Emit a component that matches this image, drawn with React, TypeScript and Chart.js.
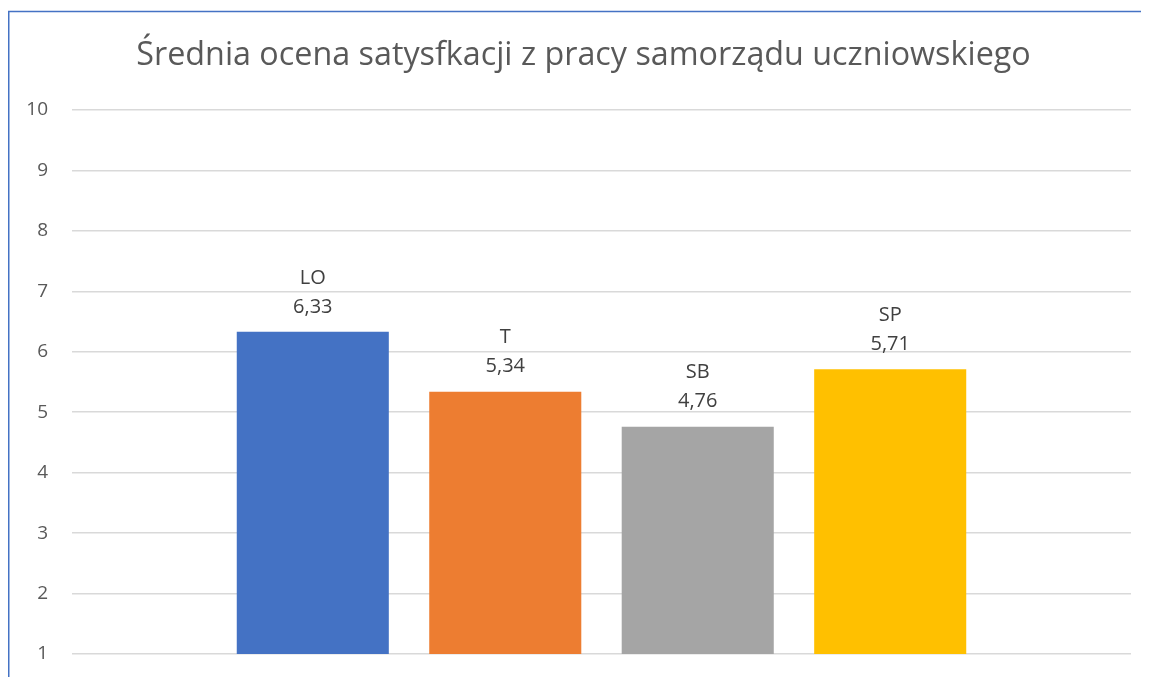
import React, { useEffect, useRef } from 'react';
import { Chart, registerables } from 'chart.js';

Chart.register(...registerables);

const titleText = 'Średnia ocena satysfkacji z pracy samorządu uczniowskiego';
const categories = [''];
const seriesNames = ['LO', 'T', 'SB', 'SP'];
const seriesValues = [6.33, 5.34, 4.76, 5.71];
const seriesColors = ['#4472C4', '#ED7D31', '#A5A5A5', '#FFC000'];
const yMin = 1;
const yMax = 10;
const yStep = 1;

const FONT = "'Open Sans', 'Noto Sans', sans-serif";

const frameLines = {
  id: 'frameLines',
  beforeDraw(chart: any) {
    const { ctx, width, height } = chart;
    ctx.save();
    ctx.strokeStyle = '#4472C4';
    ctx.lineWidth = 1.5;
    ctx.beginPath();
    ctx.moveTo(0.75, 3.5);
    ctx.lineTo(0.75, height);
    ctx.moveTo(0, 3.5);
    ctx.lineTo(width, 3.5);
    ctx.stroke();
    ctx.restore();
  },
};

const chartTitle = {
  id: 'chartTitle',
  afterDraw(chart: any) {
    const { ctx } = chart;
    ctx.save();
    ctx.fillStyle = '#595959';
    ctx.font = `32.3px ${FONT}`;
    ctx.textAlign = 'center';
    ctx.textBaseline = 'middle';
    ctx.fillText(titleText, 575.5, 47.4);
    ctx.restore();
  },
};

const barLabels = {
  id: 'barLabels',
  afterDatasetsDraw(chart: any) {
    const { ctx } = chart;
    ctx.save();
    ctx.fillStyle = '#404040';
    ctx.font = `20px ${FONT}`;
    ctx.textAlign = 'center';
    ctx.textBaseline = 'middle';
    chart.data.datasets.forEach((ds: any, i: number) => {
      const meta = chart.getDatasetMeta(i);
      meta.data.forEach((bar: any, j: number) => {
        const v = ds.data[j];
        const txt = v.toFixed(2).replace('.', ',');
        ctx.fillText(txt, bar.x, bar.y - 25);
        ctx.fillText(ds.label, bar.x, bar.y - 54);
      });
    });
    ctx.restore();
  },
};

export default function App() {
  const ref = useRef<HTMLCanvasElement>(null);
  useEffect(() => {
    if (!ref.current) return;
    const chart = new Chart(ref.current, {
      type: 'bar',
      data: {
        labels: categories,
        datasets: seriesNames.map((name, i) => ({
          label: name,
          data: [seriesValues[i]],
          backgroundColor: seriesColors[i],
          borderWidth: 0,
          categoryPercentage: 0.727,
          barPercentage: 0.79,
        })),
      },
      options: {
        animation: false,
        responsive: false,
        maintainAspectRatio: false,
        layout: { padding: { left: 16, right: 18, top: 102, bottom: 23 } },
        plugins: {
          legend: { display: false },
          tooltip: { enabled: false },
          title: { display: false },
        },
        scales: {
          x: { display: false },
          y: {
            min: yMin,
            max: yMax,
            ticks: {
              stepSize: yStep,
              color: '#595959',
              font: { family: FONT, size: 19 },
              padding: 24,
            },
            grid: { color: '#D9D9D9', lineWidth: 1.5, drawTicks: false },
            border: { display: false },
            afterFit(axis: any) {
              axis.width = 48;
              axis.paddingTop = 0;
              axis.paddingBottom = 0;
            },
          },
        },
      },
      plugins: [frameLines, barLabels, chartTitle],
    });
    return () => chart.destroy();
  }, []);
  return <canvas ref={ref} width={1141} height={669} style={{ display: 'block' }} />;
}
